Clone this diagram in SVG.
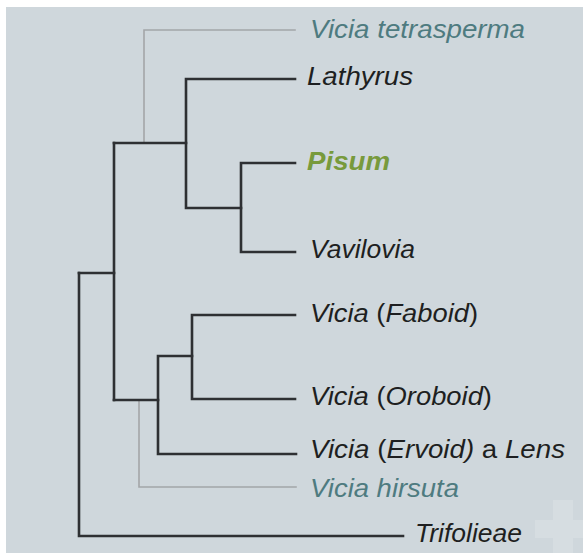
<svg xmlns="http://www.w3.org/2000/svg" width="583" height="553" viewBox="0 0 583 553">
<style>
.bg{fill:#cfd7dc}
.br{fill:none;stroke:#2e3033;stroke-width:2.6;stroke-linecap:square;stroke-linejoin:miter}
.gr{fill:none;stroke:#a3a6a8;stroke-width:1.6;stroke-linecap:square}
text{font-family:"Liberation Sans",Arial,sans-serif;font-size:26px;font-style:italic}
.k{fill:#1e1f21}
.t{fill:#4e7b80}
.p{fill:#789a3c;font-weight:bold}
.u{font-style:normal}
</style>
<rect x="0" y="0" width="583" height="553" fill="#ffffff"/>
<rect class="bg" x="6" y="7" width="577" height="546"/>
<rect x="535" y="520" width="48" height="18" fill="#d6dde1"/>
<rect x="553" y="500" width="20" height="53" fill="#d6dde1"/>
<g id="connectors">
<path class="gr" d="M144,142 V30 H295"/>
<path class="gr" d="M139,400 V487 H296"/>
<path class="br" d="M79,273 V536 H403"/>
<path class="br" d="M79,273 H114"/>
<path class="br" d="M114,143 V400"/>
<path class="br" d="M114,143 H186"/>
<path class="br" d="M186,79 H295 M186,79 V208 H241"/>
<path class="br" d="M241,163 H295 M241,163 V252 H295"/>
<path class="br" d="M114,400 H158"/>
<path class="br" d="M158,356 V454 H296 M158,356 H192"/>
<path class="br" d="M192,315 H295 M192,315 V399 H295"/>
</g>
<g id="vicia-tetrasperma"><text class="t" x="310" y="38" textLength="215" lengthAdjust="spacingAndGlyphs">Vicia tetrasperma</text></g>
<g id="lathyrus"><text class="k" x="307" y="85" textLength="106" lengthAdjust="spacingAndGlyphs">Lathyrus</text></g>
<g id="pisum"><text class="p" x="307" y="170" textLength="83" lengthAdjust="spacingAndGlyphs">Pisum</text></g>
<g id="vavilovia"><text class="k" x="310" y="258" textLength="105" lengthAdjust="spacingAndGlyphs">Vavilovia</text></g>
<g id="vicia-faboid"><text class="k" x="310" y="322" textLength="168" lengthAdjust="spacingAndGlyphs">Vicia <tspan class="u">(</tspan>Faboid<tspan class="u">)</tspan></text></g>
<g id="vicia-oroboid"><text class="k" x="310" y="405" textLength="182" lengthAdjust="spacingAndGlyphs">Vicia <tspan class="u">(</tspan>Oroboid<tspan class="u">)</tspan></text></g>
<g id="vicia-ervoid"><text class="k" x="310" y="458" textLength="255" lengthAdjust="spacingAndGlyphs">Vicia <tspan class="u">(</tspan>Ervoid) <tspan class="u">a</tspan> Lens</text></g>
<g id="vicia-hirsuta"><text class="t" x="310" y="497" textLength="149" lengthAdjust="spacingAndGlyphs">Vicia hirsuta</text></g>
<g id="trifolieae"><text class="k" x="415" y="542" textLength="107" lengthAdjust="spacingAndGlyphs">Trifolieae</text></g>
</svg>
